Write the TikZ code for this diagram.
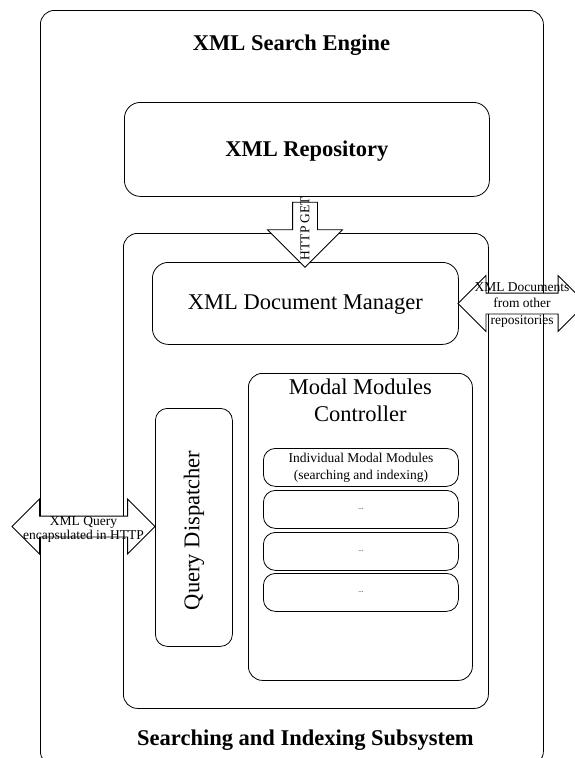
\documentclass[tikz,border=0pt]{standalone}
\usepackage{fontspec}
\setmainfont{Liberation Serif}
\usetikzlibrary{positioning,shapes.arrows}

\begin{document}
\begin{tikzpicture}[x=1pt, y=-1pt,
  box/.style={draw, rounded corners=#1, line width=0.8pt, inner sep=0pt, anchor=north west},
  box/.default=14,
  bigtext/.style={font=\fontsize{22.5}{27}\selectfont, align=center, inner sep=0pt},
  bigtitle/.style={bigtext, font=\fontsize{22.5}{27}\selectfont\bfseries},
  smalltext/.style={font=\fontsize{13.5}{#1}\selectfont, align=center, inner sep=0pt},
  smalltext/.default=16.5,
  blockarrow/.style={draw, fill=white, line width=0.8pt, inner sep=0pt}]
\useasboundingbox (0,0) rectangle (574,758);

% outer frame and repository
\node[box=14, minimum width=503, minimum height=755] (engine) at (40,10) {};
\node[bigtitle] (enginetitle) at (291.5,45) {XML Search Engine};
\node[box=16, minimum width=365, minimum height=94] (repo) at (124,102) {};
\node[bigtitle] at ([yshift=-2pt]repo.center) {XML Repository};

% searching and indexing subsystem
\node[box=14, minimum width=365, minimum height=475] (subsys) at (123,233) {};
\node[bigtitle] (subsystitle) at (305.5,740) {Searching and Indexing Subsystem};
\node[box=16, minimum width=306, minimum height=82] (docmgr) at (152,262) {};
\node[bigtext] at ([yshift=-1pt]docmgr.center) {XML Document Manager};
\node[box=14, minimum width=224, minimum height=307] (ctrl) at (248,373) {};
\node[bigtext, anchor=north] (ctrltitle) at ([yshift=-6pt]ctrl.north) {Modal Modules\\Controller};
\node[box=12, minimum width=77, minimum height=238] (dispatch) at (155,408) {};
\node[bigtext, rotate=90] at ([yshift=-3pt]dispatch.center) {Query Dispatcher};

% modal modules
\node[box=12, minimum width=195, minimum height=38] (mod1) at (263,448) {};
\node[smalltext=17] at (mod1.center) {Individual Modal Modules\\(searching and indexing)};
\foreach \i/\top in {2/490, 3/532, 4/573} {
  \node[box=12, minimum width=195, minimum height=38] (mod\i) at (263,\top) {};
  \node[font=\fontsize{7}{8}\selectfont] at (mod\i.center) {...};
}

% block arrows
\node[blockarrow, single arrow, rotate=-90, minimum height=65, minimum width=74,
  inner ysep=12pt, single arrow head extend=25pt] (get) at (305,228.5) {};
\node[smalltext, rotate=90] at (get.center) {HTTP GET};
\node[blockarrow, double arrow, minimum height=143, minimum width=54,
  inner ysep=10pt, double arrow head extend=17pt] (query) at (83.5,526.5) {};
\node[smalltext=12] at ([yshift=-3pt]query.center) {XML Query\\encapsulated in HTTP};
\node[blockarrow, double arrow, minimum height=128, minimum width=55,
  inner ysep=10pt, double arrow head extend=17.5pt] (docs) at (522,303.5) {};
\node[smalltext] at ([yshift=-1.5pt]docs.center) {XML Documents\\from other\\repositories};
\end{tikzpicture}
\end{document}
